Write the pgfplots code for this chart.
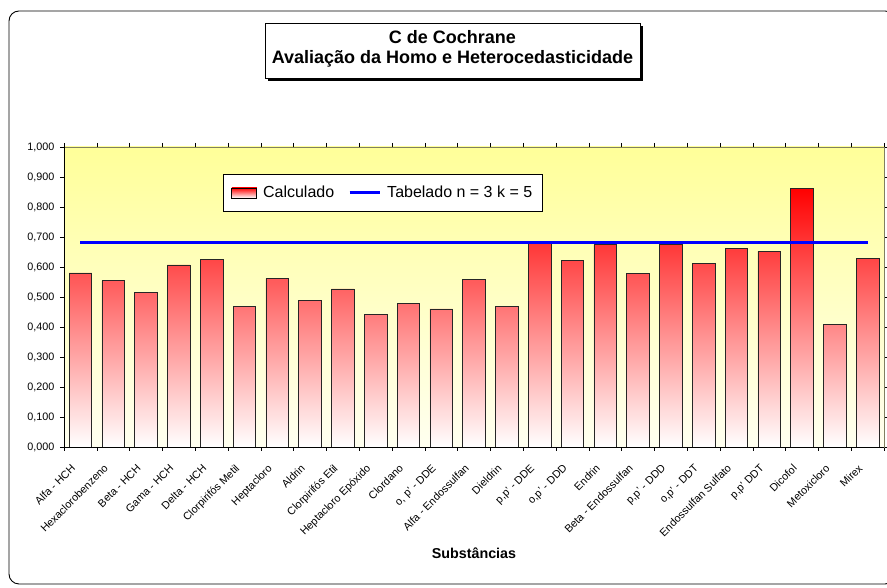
\documentclass[border=0pt]{standalone}
\usepackage{fontspec}
\setmainfont{Liberation Sans}
\usepackage{pgfplots}
\pgfplotsset{compat=1.18}
\definecolor{bgtop}{RGB}{255,255,153}
\definecolor{bgbot}{RGB}{255,255,240}
\definecolor{frameolive}{RGB}{128,128,96}
\begin{document}
\begin{tikzpicture}[x=1pt,y=1pt]
\path[use as bounding box] (0pt,0pt) rectangle (887pt,588pt);
\draw[black, line width=0.9pt, rounded corners=10pt] (9pt,4pt) rectangle (895pt,577pt);
% title
\fill[black] (268pt,507pt) rectangle (643pt,562pt);
\draw[black, fill=white, line width=0.8pt] (265pt,510pt) rectangle (640pt,565pt);
\node[font=\fontsize{18}{21}\selectfont\bfseries] at (452.5pt,550.5pt) {C de Cochrane};
\node[font=\fontsize{18}{21}\selectfont\bfseries] at (452.5pt,529pt) {Avaliação da Homo e Heterocedasticidade};
\begin{axis}[
  at={(64pt,141pt)}, anchor=south west,
  scale only axis, width=820pt, height=300pt,
  xmin=-0.5, xmax=24.5, ymin=0, ymax=1,
  axis background/.style={top color=bgtop, bottom color=bgbot},
  axis line style={frameolive, line width=0.6pt},
  xtick={0,...,24},
  xticklabels={Alfa - HCH, Hexaclorobenzeno, Beta - HCH, Gama - HCH, Delta - HCH, Clorpirifós Metil, Heptacloro, Aldrin, Clorpirifós Etil, Heptacloro Epóxido, Clordano, {o, p' - DDE}, Alfa - Endossulfan, Dieldrin, {p,p' - DDE}, {o,p' - DDD}, Endrin, Beta - Endossulfan, {p,p' - DDD}, {o,p' - DDT}, Endossulfan Sulfato, {p,p' DDT}, Dicofol, Metoxicloro, Mirex},
  minor xtick={-0.5,0.5,...,24.5},
  major x tick style={draw=none},
  minor x tick style={black, line width=0.6pt},
  ytick={0,0.1,0.2,0.3,0.4,0.5,0.6,0.7,0.8,0.9,1},
  y tick style={black, line width=0.6pt},
  tick align=outside, major tick length=4pt, minor tick length=4pt,
  xticklabel style={xshift=-10pt, yshift=-11pt, rotate=45, anchor=north east, inner sep=1pt, font=\fontsize{10.8}{12}\selectfont},
  yticklabel style={xshift=-2pt, font=\fontsize{10.8}{12}\selectfont, /pgf/number format/.cd, fixed, fixed zerofill, precision=3, use comma},
  /pgf/number format/assume math mode=true,
  xlabel={Substâncias},
  every axis x label/.style={at={(rel axis cs:0.5,0)}, anchor=center, yshift=-106pt, font=\fontsize{14.3}{16}\selectfont\bfseries},
  legend style={at={(0.194,0.91)}, anchor=north west, draw=black, fill=white, line width=0.8pt,
    legend columns=2, font=\fontsize{16}{18}\selectfont,
    /tikz/every odd column/.append style={column sep=4pt},
    /tikz/every even column/.append style={column sep=12pt},
    inner xsep=8pt, inner ysep=10pt},
  after end axis/.code={\draw[black, line width=0.7pt] (rel axis cs:0,1) -- (rel axis cs:0,0) -- (rel axis cs:1,0);},
  clip=false,
]
\addplot[ybar, bar width=22.7pt, draw=black!85, line width=0.7pt, top color=red, bottom color=white,
  legend image code/.code={\draw[draw=black, line width=0.6pt, top color=red, bottom color=white] (0pt,-5pt) rectangle (25pt,5pt);}]
coordinates {
(0,0.580) (1,0.554) (2,0.514) (3,0.607) (4,0.624) (5,0.468) (6,0.561) (7,0.489)
(8,0.527) (9,0.442) (10,0.479) (11,0.460) (12,0.559) (13,0.469) (14,0.678) (15,0.622)
(16,0.674) (17,0.579) (18,0.676) (19,0.612) (20,0.662) (21,0.652) (22,0.863) (23,0.409) (24,0.629)
};
\addlegendentry{Calculado}
\addplot[blue, line width=2.8pt, mark=none,
  legend image code/.code={\draw[blue, line width=3pt] (0pt,0pt) -- (30pt,0pt);}]
coordinates {(0,0.682) (24,0.682)};
\addlegendentry{Tabelado n = 3 k = 5}
\end{axis}
\end{tikzpicture}
\end{document}
